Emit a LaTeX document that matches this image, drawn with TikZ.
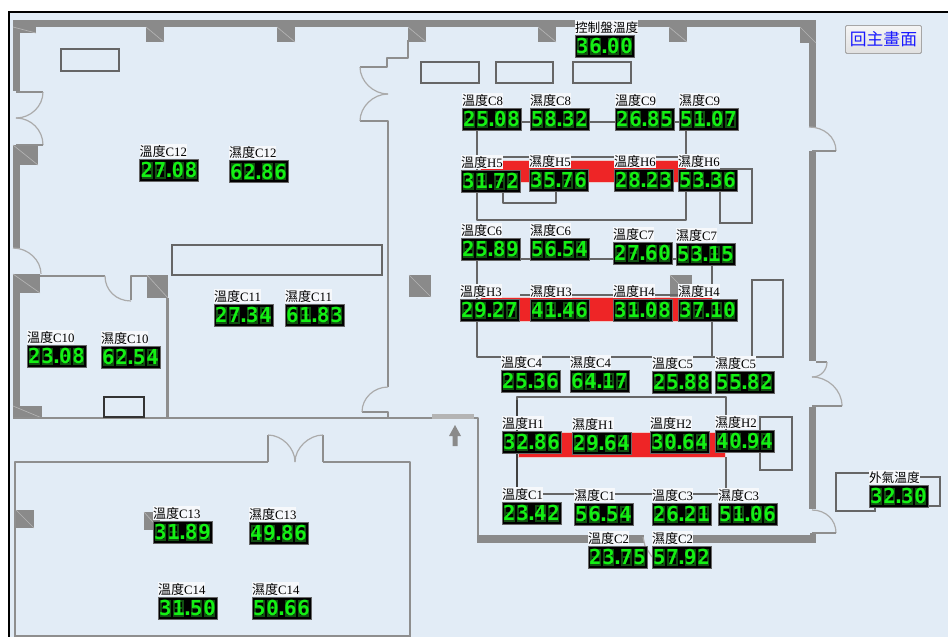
\documentclass[tikz,border=0pt]{standalone}
\usepackage{fontspec}
\setmainfont{Liberation Serif}
\newfontfamily\cjkf{Noto Sans CJK TC}
\newfontfamily\segf[Color=14F014]{DejaVu Sans Mono Bold}
\definecolor{panelbg}{HTML}{E2ECF6}
\definecolor{wallc}{HTML}{8A8A8A}
\definecolor{thinw}{HTML}{8E8E8E}
\definecolor{doorc}{HTML}{ABABAB}
\definecolor{boxc}{HTML}{666666}
\definecolor{ghostc}{HTML}{125012}
\definecolor{redc}{HTML}{EE2526}
\definecolor{pillarl}{HTML}{B4B4B4}
\definecolor{labelbg}{HTML}{F6F8FB}
\newlength\pxu \setlength\pxu{0.75pt}
\def\dd#1{\makebox[13.3\pxu][c]{#1}}
\def\dispval#1#2.#3#4\relax{\dd{#1}\dd{#2}\makebox[4.5\pxu][c]{.}\dd{#3}\dd{#4}}
\tikzset{
  wallline/.style={draw=thinw,line width=1.6pt,line join=round},
  doorline/.style={draw=doorc,line width=0.9pt},
  itembox/.style={draw=boxc,line width=0.8pt},
  pipeline/.style={draw=boxc,line width=1pt,line join=round},
  pipedark/.style={draw=black!75,line width=0.8pt},
  redband/.style={fill=redc,draw=pillarl!60!redc!40,line width=0.6pt},
  dispbox/.style={anchor=north west,inner sep=0pt,outer sep=0pt,minimum width=44.25pt,minimum height=16.5pt,
    font=\segf\fontsize{15.5}{16}\selectfont},
  labelbox/.style={anchor=north west,inner sep=0pt,outer sep=0pt,fill=labelbg,text=black,
    text height=9pt,text depth=1.2pt,font=\fontsize{9.6}{10}\selectfont},
}
\newcommand\temp[1]{{\cjkf\fontsize{9.8}{10}\selectfont 溫度}#1}
\newcommand\humi[1]{{\cjkf\fontsize{9.8}{10}\selectfont 濕度}#1}
\newcommand\sensor[5]{%
  \begin{scope}[shift={(#2,#3)}]
    \fill[black] (0,0) rectangle (59,22);
    \draw[boxc,line width=0.5pt] (0,0) rectangle (59,22);
    \foreach \dx in {7.5,20.8,38.6,51.9}{
      \draw[ghostc,line width=1.5pt] (\dx-4.5,3.5) rectangle (\dx+4.5,18.5) (\dx-4.5,11)--(\dx+4.5,11);}
  \end{scope}
  \node[dispbox] (#1) at (#2,#3) {\dispval #5\relax};
  \node[labelbox] (#1l) at (#2,#3-15) {#4};}
\newcommand\pillar[4]{\fill[wallc] (#1,#2) rectangle (#3,#4);
  \draw[pillarl,line width=0.5pt] (#1,#2) -- (#3,#4);}
\begin{document}
\begin{tikzpicture}[x=0.75pt,y=-0.75pt]
\useasboundingbox (0,0) rectangle (948,637);
\fill[white] (0,0) rectangle (948,637);
\fill[panelbg] (9,12) rectangle (948,637);
\draw[black,line width=1.5pt] (948,11.5) -- (9,11.5) -- (9,637);
% main walls
\fill[wallc] (13,20) rectangle (816,27);
\fill[wallc] (13,27) rectangle (20,91);
\fill[wallc] (13,145) rectangle (20,248);
\fill[wallc] (13,274) rectangle (20,418);
\fill[wallc] (809,27) rectangle (816,127);
\fill[wallc] (809,151) rectangle (816,361);
\fill[wallc] (809,407) rectangle (816,509);
\fill[wallc] (477,535) rectangle (644,543);
\fill[wallc] (690,535) rectangle (816,543);
\fill[wallc] (810,533) rectangle (816,536);
% pillars
\pillar{13}{27}{36}{33}
\pillar{146}{27}{164}{42}
\pillar{277}{27}{295}{42}
\pillar{408}{27}{426}{42}
\pillar{538}{27}{556}{42}
\pillar{669}{27}{687}{42}
\pillar{800}{27}{816}{43}
\pillar{13}{145}{38}{165}
\pillar{13}{274}{40}{293}
\pillar{147}{275}{168}{298}
\pillar{13}{406}{42}{418}
\pillar{409}{275}{431}{297}
\pillar{670}{275}{692}{297}
\pillar{16}{510}{34}{528}
\pillar{144}{512}{160}{530}
% thin walls
\draw[wallline] (408,40) -- (408,58) -- (387,58) -- (387,67) -- (360,67);
\draw[wallline] (360,121) -- (388,121) -- (388,387);
\draw[wallline] (362,412) -- (388,412) -- (388,418);
\draw[wallline,line width=2pt] (13,418) -- (432,418);
\draw[wallline,line width=3.5pt,draw=pillarl] (432,416.5) -- (474,416.5);
\draw[wallline,line width=2.2pt] (474,418) -- (478,418) -- (478,535);
\draw[wallline] (40,276) -- (105,276);
\draw[wallline] (131,300) -- (131,276) -- (147,276);
\draw[wallline] (167.5,298) -- (167.5,418);
\draw[wallline] (268,462) -- (15,462) -- (15,637);
\draw[wallline] (323,462) -- (410,462) -- (410,637);
\draw[wallline] (268,462) -- (268,435);
\draw[wallline] (323,462) -- (323,435);
\draw[wallline] (15,636) -- (410,636);
% door leaves
\draw[wallline,line width=1.1pt] (16,92) -- (43,92);
\draw[doorline] (43,92) .. controls (43,106) and (31,118) .. (16,118);
\draw[doorline] (16,118) .. controls (31,118) and (43,130) .. (43,145);
\draw[wallline,line width=1.1pt] (43,145) -- (16,145);
\draw[doorline] (13,248) .. controls (28,248) and (41,260) .. (41,274);
\draw[doorline] (360,67) .. controls (360,81) and (373,94) .. (388,94);
\draw[doorline] (388,94) .. controls (373,94) and (360,107) .. (360,121);
\draw[doorline] (388,387) .. controls (374,387) and (362,398) .. (362,412);
\draw[doorline] (105,276) .. controls (105,290) and (116,301) .. (131,301);
\draw[doorline] (268,435) .. controls (282,435) and (295,448) .. (295,462);
\draw[doorline] (323,435) .. controls (309,435) and (295,448) .. (295,462);
\draw[doorline] (809,127) .. controls (824,127) and (836,137) .. (836,151);
\draw[wallline,line width=1.1pt] (836,151) -- (812,151);
\draw[wallline,line width=1.1pt] (816,362) -- (827,362);
\draw[doorline] (827,362) .. controls (827,370) and (821,377) .. (812,377);
\draw[doorline] (812,377) .. controls (828,377) and (842,390) .. (842,406);
\draw[wallline,line width=1.1pt] (842,406) -- (812,406);
\draw[doorline] (812,510) .. controls (826,510) and (836,520) .. (836,533);
\draw[wallline,line width=1.1pt] (836,533) -- (812,533);
\draw[doorline] (643,537) -- (645,546) -- (652,557);
% furniture boxes
\draw[itembox] (61,49) rectangle (119,71);
\draw[itembox] (172,245) rectangle (382,275);
\draw[itembox] (421,62) rectangle (479,83);
\draw[itembox] (496,62) rectangle (553,83);
\draw[itembox] (573,62) rectangle (631,83);
\draw[itembox,draw=black!80] (104,397) rectangle (144,417);
\draw[itembox] (752,280) rectangle (783,357);
\draw[itembox] (760,417) rectangle (792,470);
\draw[itembox] (720,192) -- (720,223) -- (752,223) -- (752,169) -- (720,169);
\draw[itembox] (875,499) -- (875,511) -- (836,511) -- (836,473) -- (875,473);
\draw[itembox] (920,477) -- (940,477) -- (940,506) -- (925,506);
% pipes
\draw[pipeline] (522,122) -- (680,122);
\draw[pipeline] (477,128) -- (477,170);
\draw[pipeline] (686,128) -- (686,170);
\draw[pipeline] (500,157) -- (680,157);
\draw[redband] (480,160) rectangle (686,182.5);
\draw[pipeline] (477,192) -- (477,220) -- (686,220) -- (686,190);
\draw[pipeline] (503,190) -- (503,203) -- (556,203) -- (556,190);
\draw[pipeline] (521,259) -- (680,259);
\draw[pipeline] (477,260) -- (477,300);
\draw[pipeline] (712,264) -- (712,300);
\draw[pipeline] (520,295) -- (680,295);
\draw[redband] (480,297) rectangle (712,321.5);
\draw[pipeline] (477,320) -- (477,357) -- (712,357) -- (712,320);
\draw[pipeline] (712,357) -- (752,357);
\draw[pipeline] (517,432) -- (517,397) -- (726,397) -- (726,432);
\draw[redband] (518,432) rectangle (725,457.5);
\draw[pipedark] (517,400) -- (517,432);
\draw[pipedark] (517,453) -- (517,488);
\draw[pipeline] (726,457) -- (726,488);
\draw[pipeline] (540,494) -- (720,494);
% arrow
\fill[wallc] (455,425) -- (461,436) -- (457.5,436) -- (457.5,446) -- (452.5,446) -- (452.5,436) -- (449,436) -- cycle;
% sensors
\sensor{ctrl}{575}{35}{{\cjkf\fontsize{9.5}{10}\selectfont 控制盤溫度}}{36.00}
\sensor{tc8}{462}{108}{\temp{C8}}{25.08}
\sensor{hc8}{530}{108}{\humi{C8}}{58.32}
\sensor{tc9}{615}{108}{\temp{C9}}{26.85}
\sensor{hc9}{679}{108}{\humi{C9}}{51.07}
\sensor{th5}{461}{170}{\temp{H5}}{31.72}
\sensor{hh5}{529}{169}{\humi{H5}}{35.76}
\sensor{th6}{614}{169}{\temp{H6}}{28.23}
\sensor{hh6}{678}{169}{\humi{H6}}{53.36}
\sensor{tc6}{461}{238}{\temp{C6}}{25.89}
\sensor{hc6}{530}{238}{\humi{C6}}{56.54}
\sensor{tc7}{613}{242}{\temp{C7}}{27.60}
\sensor{hc7}{676}{243}{\humi{C7}}{53.15}
\sensor{th3}{460}{299}{\temp{H3}}{29.27}
\sensor{hh3}{530}{299}{\humi{H3}}{41.46}
\sensor{th4}{613}{299}{\temp{H4}}{31.08}
\sensor{hh4}{678}{299}{\humi{H4}}{37.10}
\sensor{tc4}{501}{370}{\temp{C4}}{25.36}
\sensor{hc4}{570}{370}{\humi{C4}}{64.17}
\sensor{tc5}{652}{371}{\temp{C5}}{25.88}
\sensor{hc5}{715}{371}{\humi{C5}}{55.82}
\sensor{th1}{502}{431}{\temp{H1}}{32.86}
\sensor{hh1}{572}{432}{\humi{H1}}{29.64}
\sensor{th2}{650}{431}{\temp{H2}}{30.64}
\sensor{hh2}{715}{430}{\humi{H2}}{40.94}
\sensor{tc1}{502}{502}{\temp{C1}}{23.42}
\sensor{hc1}{574}{503}{\humi{C1}}{56.54}
\sensor{tc3}{652}{503}{\temp{C3}}{26.21}
\sensor{hc3}{718}{503}{\humi{C3}}{51.06}
\sensor{tc2}{588}{546}{\temp{C2}}{23.75}
\sensor{hc2}{652}{546}{\humi{C2}}{57.92}
\sensor{outt}{869}{485}{{\cjkf\fontsize{9.5}{10}\selectfont 外氣溫度}}{32.30}
\sensor{tc12}{139.5}{159}{\temp{C12}}{27.08}
\sensor{hc12}{229}{160.5}{\humi{C12}}{62.86}
\sensor{tc11}{214}{304}{\temp{C11}}{27.34}
\sensor{hc11}{285}{304}{\humi{C11}}{61.83}
\sensor{tc10}{27}{345}{\temp{C10}}{23.08}
\sensor{hc10}{101}{346}{\humi{C10}}{62.54}
\sensor{tc13}{153}{521}{\temp{C13}}{31.89}
\sensor{hc13}{249}{522}{\humi{C13}}{49.86}
\sensor{tc14}{158}{597}{\temp{C14}}{31.50}
\sensor{hc14}{252}{597}{\humi{C14}}{50.66}
% button
\node[anchor=north west,inner sep=0pt,minimum width=57pt,minimum height=21pt,rounded corners=1pt,
  draw=black!35,line width=0.7pt,top color=white!96!black,bottom color=black!12,text=blue!90!white,
  font=\cjkf\fontsize{12.6}{13}\selectfont] (home) at (845,25) {回主畫面};
\end{tikzpicture}
\end{document}
